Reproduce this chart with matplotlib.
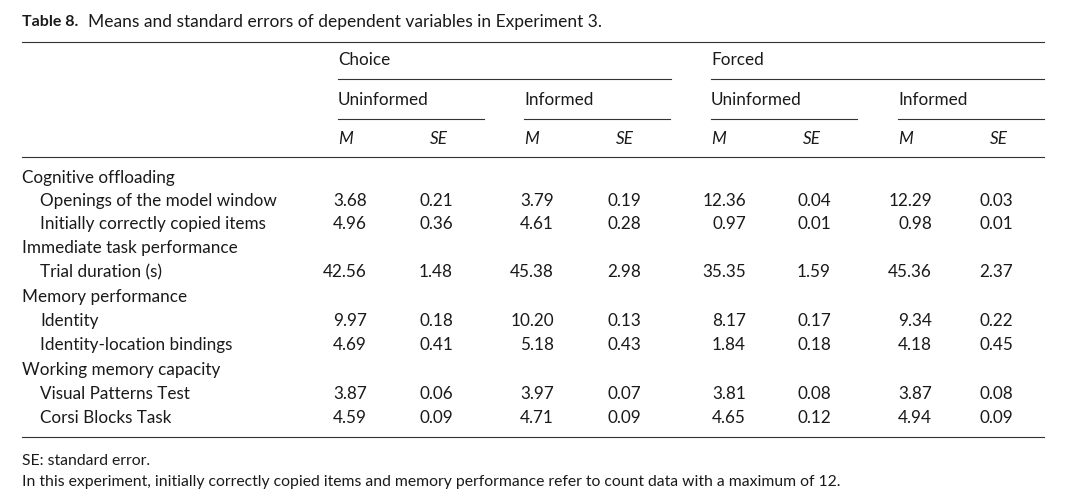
import matplotlib.pyplot as plt

plt.rcParams['font.family'] = ['Lato', 'DejaVu Sans']

row_labels = ['Cognitive offloading', 'Openings of the model window', 'Initially correctly copied items',
              'Immediate task performance', 'Trial duration (s)', 'Memory performance', 'Identity',
              'Identity-location bindings', 'Working memory capacity', 'Visual Patterns Test', 'Corsi Blocks Task']
indented = [False, True, True, False, True, False, True, True, False, True, True]
values = [
    None,
    ['3.68', '0.21', '3.79', '0.19', '12.36', '0.04', '12.29', '0.03'],
    ['4.96', '0.36', '4.61', '0.28', '0.97', '0.01', '0.98', '0.01'],
    None,
    ['42.56', '1.48', '45.38', '2.98', '35.35', '1.59', '45.36', '2.37'],
    None,
    ['9.97', '0.18', '10.20', '0.13', '8.17', '0.17', '9.34', '0.22'],
    ['4.69', '0.41', '5.18', '0.43', '1.84', '0.18', '4.18', '0.45'],
    None,
    ['3.87', '0.06', '3.97', '0.07', '3.81', '0.08', '3.87', '0.08'],
    ['4.59', '0.09', '4.71', '0.09', '4.65', '0.12', '4.94', '0.09'],
]
groups = ['Choice', 'Forced']
subgroups = ['Uninformed', 'Informed']

W, H = 1080, 504
fig = plt.figure(figsize=(W / 100, H / 100), dpi=100)
ax = fig.add_axes([0, 0, 1, 1])
ax.set_xlim(0, W)
ax.set_ylim(H, 0)
ax.axis('off')

fs = 12.3
col = '#1a1a1a'

def t(x, y, s, **kw):
    kw.setdefault('fontsize', fs)
    ax.text(x, y, s, va='center', color=col, **kw)

def hline(x0, x1, y, lw=0.8):
    ax.plot([x0, x1], [y, y], color='#333333', lw=lw)

ax.text(22, 22, 'Table 8.', fontsize=11.5, weight='bold', va='center', color=col)
t(88, 22, 'Means and standard errors of dependent variables in Experiment 3.', fontsize=12.5)
hline(22, 1044, 42)

gx = [338, 711]
sx = [338, 524, 711, 898]
for i, g in enumerate(groups):
    t(gx[i], 60, g)
    hline(gx[i], gx[i] + 333, 79)
for i, x in enumerate(sx):
    t(x, 100, subgroups[i % 2])
    hline(x, x + 146, 119)
    t(x, 139, 'M', style='italic')
    t(x + 92, 139, 'SE', style='italic')
hline(22, 1044, 157)

right = [367, 453, 554, 641, 746, 831, 932, 1013]
ys = [178, 201, 224, 248, 272, 297, 321, 345, 370, 394, 418]
for lab, ind, vals, y in zip(row_labels, indented, values, ys):
    t(40 if ind else 22, y, lab)
    if vals:
        for x, v in zip(right, vals):
            t(x, y, v, ha='right')
hline(22, 1044, 437)

t(22, 461, 'SE: standard error.', fontsize=11.3)
t(22, 482, 'In this experiment, initially correctly copied items and memory performance refer to count data with a maximum of 12.', fontsize=11.3)

fig.savefig('out.png', dpi=100, facecolor='white')
